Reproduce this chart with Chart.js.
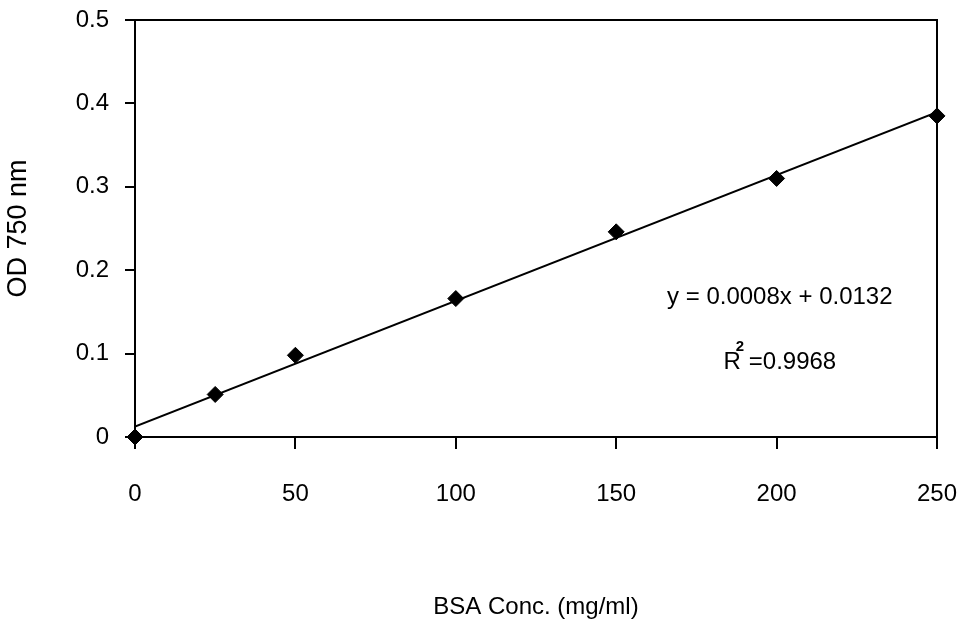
<!DOCTYPE html>
<html>
<head>
<meta charset="utf-8">
<script src="https://cdn.jsdelivr.net/npm/chart.js@4/dist/chart.umd.min.js"></script>
<style>
  html, body { margin: 0; padding: 0; background: #fff; }
  #wrap { width: 962px; height: 628px; }
</style>
</head>
<body>
<div id="wrap"><canvas id="bsaChart" width="962" height="628"></canvas></div>
<script>
// BSA standard curve
const concentrations = [0, 25, 50, 100, 150, 200, 250];
const absorbance = [0, 0.051, 0.098, 0.166, 0.246, 0.31, 0.385];
const xTicks = [0, 50, 100, 150, 200, 250];
const yTicks = [0, 0.1, 0.2, 0.3, 0.4, 0.5];
const equationText = 'y = 0.0008x + 0.0132';
const rSquaredText = '0.9968';

// least squares fit for the trendline
function linearFit(xs, ys) {
    const n = xs.length;
    const mx = xs.reduce((a, b) => a + b, 0) / n;
    const my = ys.reduce((a, b) => a + b, 0) / n;
    let sxy = 0, sxx = 0;
    for (let i = 0; i < n; i++) {
        sxy += (xs[i] - mx) * (ys[i] - my);
        sxx += (xs[i] - mx) * (xs[i] - mx);
    }
    const slope = sxy / sxx;
    return { slope: slope, intercept: my - slope * mx };
}

const fit = linearFit(concentrations, absorbance);
const xMin = concentrations[0];
const xMax = concentrations[concentrations.length - 1];
const trendPoints = [
    { x: xMin, y: fit.intercept + fit.slope * xMin },
    { x: xMax, y: fit.intercept + fit.slope * xMax }
];

const sans = "'Liberation Sans', Arial, sans-serif";

const frameAndText = {
    id: 'frameAndText',
    afterDraw(chart) {
        const ctx = chart.ctx;
        const a = chart.chartArea;
        ctx.save();
        ctx.strokeStyle = '#000';
        ctx.lineWidth = 2;
        ctx.strokeRect(a.left, a.top, a.right - a.left, a.bottom - a.top);

        const xs = chart.scales.x, ys = chart.scales.y;
        ctx.fillStyle = '#000';
        ctx.textAlign = 'center';
        ctx.textBaseline = 'middle';
        ctx.font = '24px ' + sans;
        ctx.fillText(equationText, xs.getPixelForValue(201), ys.getPixelForValue(0.168));

        // R² line
        const cx = xs.getPixelForValue(201);
        const cy = ys.getPixelForValue(0.09);
        const body = '=' + rSquaredText;
        const gap = 8;
        const rW = ctx.measureText('R').width;
        const bW = ctx.measureText(body).width;
        const startX = cx - (rW + gap + bW) / 2;
        ctx.textAlign = 'left';
        ctx.fillText('R', startX, cy);
        ctx.font = 'bold 15px ' + sans;
        ctx.fillText('2', startX + rW - 5, cy - 15);
        ctx.font = '24px ' + sans;
        ctx.fillText(body, startX + rW + gap, cy);
        ctx.restore();
    }
};

new Chart(document.getElementById('bsaChart').getContext('2d'), {
    type: 'scatter',
    data: {
        datasets: [
            {
                label: 'OD 750 nm',
                data: concentrations.map((c, i) => ({ x: c, y: absorbance[i] })),
                pointStyle: 'rectRot',
                pointRadius: 8,
                pointHoverRadius: 8,
                backgroundColor: '#000',
                borderColor: '#000',
                borderWidth: 1,
                clip: false,
                order: 1
            },
            {
                label: 'Linear fit',
                type: 'line',
                data: trendPoints,
                borderColor: '#000',
                borderWidth: 2,
                pointRadius: 0,
                fill: false,
                order: 2
            }
        ]
    },
    options: {
        responsive: false,
        animation: false,
        layout: { padding: { top: 20, right: 25, bottom: 0, left: 0 } },
        plugins: {
            legend: { display: false },
            tooltip: { enabled: false }
        },
        scales: {
            x: {
                type: 'linear',
                min: 0,
                max: 250,
                afterBuildTicks: s => { s.ticks = xTicks.map(v => ({ value: v })); },
                afterFit: s => { s.height = 191; s.paddingLeft = 0; s.paddingRight = 0; },
                grid: { drawOnChartArea: false, tickLength: 12, color: '#000', lineWidth: 2 },
                border: { display: true, color: '#000', width: 2 },
                ticks: { color: '#000', padding: 31, font: { family: sans, size: 24 }, maxRotation: 0 },
                title: {
                    display: true,
                    text: 'BSA Conc. (mg/ml)',
                    color: '#000',
                    font: { family: sans, size: 24 },
                    padding: { top: 0, bottom: 6 }
                }
            },
            y: {
                type: 'linear',
                min: 0,
                max: 0.5,
                afterBuildTicks: s => { s.ticks = yTicks.map(v => ({ value: v })); },
                afterFit: s => { s.width = 135; s.paddingTop = 0; s.paddingBottom = 0; },
                grid: { drawOnChartArea: false, tickLength: 10, color: '#000', lineWidth: 2 },
                border: { display: true, color: '#000', width: 2 },
                ticks: {
                    color: '#000',
                    padding: 16,
                    font: { family: sans, size: 24 },
                    callback: v => String(+v.toFixed(1))
                },
                title: {
                    display: true,
                    text: 'OD 750 nm',
                    color: '#000',
                    font: { family: sans, size: 27 },
                    padding: { top: 2, bottom: 0 }
                }
            }
        }
    },
    plugins: [frameAndText]
});
</script>
</body>
</html>
